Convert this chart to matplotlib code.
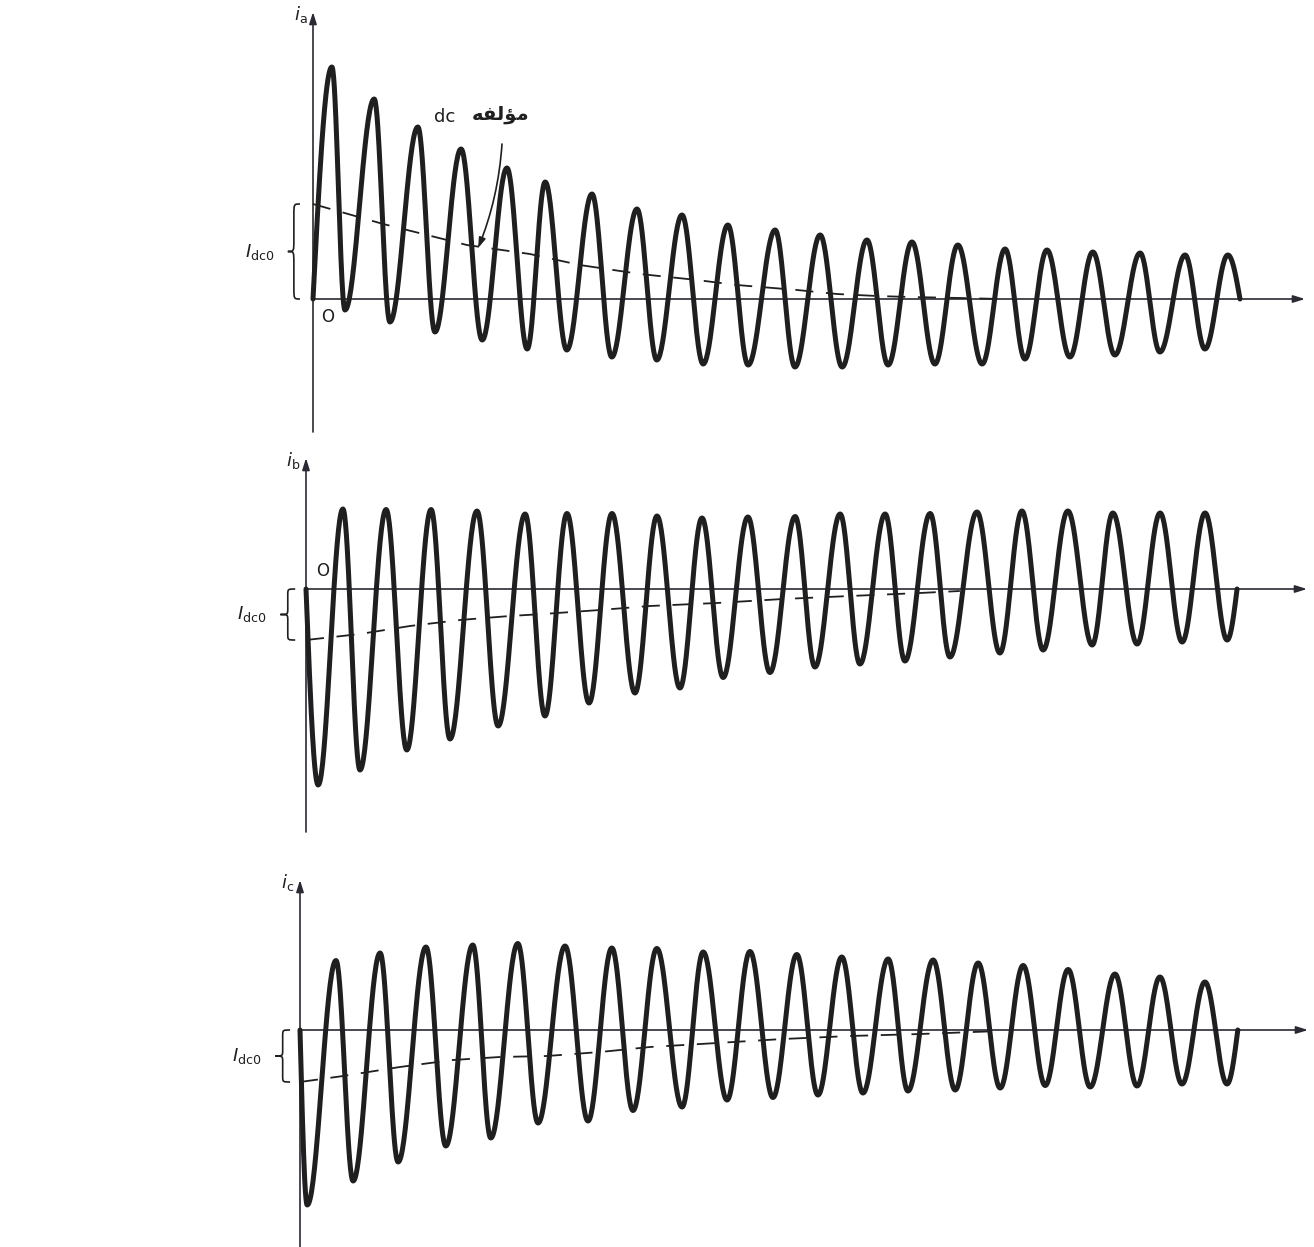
import numpy as np
import matplotlib
matplotlib.use("Agg")
import matplotlib.pyplot as plt
from matplotlib.path import Path
from matplotlib.patches import PathPatch

# =========================================================
# DATA - time in cycles, current in p.u.
# successive extrema of each phase current, plus dc component
# =========================================================
ta = [0, 0.42, 0.71, 1.36, 1.71, 2.33, 2.71, 3.29, 3.76, 4.31, 4.76, 5.16, 5.64,
      6.20, 6.64, 7.20, 7.64, 8.20, 8.67, 9.22, 9.67, 10.27, 10.71, 11.27, 11.76,
      12.31, 12.78, 13.31, 13.82, 14.33, 14.87, 15.38, 15.82, 16.31, 16.82, 17.33,
      17.82, 18.38, 18.82, 19.38, 19.82, 20.33, 20.60]
ia = [0, 4.64, -0.22, 4.00, -0.46, 3.44, -0.66, 3.00, -0.82, 2.62, -1.00, 2.34,
      -1.02, 2.10, -1.16, 1.80, -1.22, 1.68, -1.30, 1.48, -1.32, 1.38, -1.36, 1.28,
      -1.36, 1.18, -1.32, 1.14, -1.30, 1.08, -1.30, 1.00, -1.20, 0.98, -1.16, 0.94,
      -1.12, 0.92, -1.06, 0.88, -1.00, 0.88, 0]

tb = [0, 0.27, 0.82, 1.20, 1.78, 2.24, 2.78, 3.20, 3.80, 4.27, 4.87, 5.31, 5.80,
      6.29, 6.80, 7.31, 7.80, 8.31, 8.80, 9.27, 9.82, 10.31, 10.87, 11.31, 11.87,
      12.31, 12.87, 13.31, 13.87, 14.31, 14.91, 15.42, 15.91, 16.38, 16.93, 17.47,
      17.93, 18.47, 18.98, 19.47, 19.98, 20.47, 20.69]
ib = [0, -3.92, 1.60, -3.62, 1.59, -3.22, 1.59, -3.00, 1.56, -2.74, 1.50, -2.54,
      1.51, -2.28, 1.51, -2.08, 1.46, -1.98, 1.42, -1.77, 1.44, -1.67, 1.45, -1.56,
      1.50, -1.50, 1.50, -1.44, 1.51, -1.36, 1.54, -1.28, 1.56, -1.22, 1.56, -1.12,
      1.52, -1.10, 1.52, -1.06, 1.52, -1.02, 0]

tc = [0, 0.16, 0.80, 1.18, 1.78, 2.18, 2.80, 3.24, 3.84, 4.24, 4.84, 5.29, 5.89,
      6.40, 6.93, 7.40, 7.93, 8.49, 8.96, 9.49, 10.00, 10.51, 11.04, 11.51, 12.04,
      12.51, 13.07, 13.51, 14.07, 14.56, 15.07, 15.56, 16.07, 16.56, 17.07, 17.56,
      18.11, 18.60, 19.11, 19.60, 20.11, 20.60, 20.84]
ic = [0, -3.50, 1.39, -3.02, 1.54, -2.64, 1.66, -2.32, 1.70, -2.16, 1.73, -1.86,
      1.68, -1.82, 1.64, -1.61, 1.63, -1.54, 1.56, -1.40, 1.57, -1.35, 1.51, -1.30,
      1.46, -1.26, 1.42, -1.22, 1.40, -1.20, 1.34, -1.16, 1.29, -1.11, 1.21, -1.14,
      1.12, -1.12, 1.06, -1.08, 0.96, -1.08, 0]

dc_ta = [0, 1.56, 3.42, 4.82, 5.93, 7.27, 8.53, 9.42, 10.76, 11.64, 12.53, 13.27, 14.38, 15.27]
dc_a = [1.90, 1.50, 1.08, 0.90, 0.68, 0.50, 0.38, 0.28, 0.18, 0.10, 0.06, 0.04, 0.02, 0.0]
dc_tb = [0, 1.20, 2.31, 3.42, 4.53, 5.27, 6.53, 7.64, 9.13, 10.60, 12.09, 13.64, 14.53]
dc_b = [-1.02, -0.90, -0.74, -0.62, -0.54, -0.50, -0.42, -0.34, -0.28, -0.20, -0.14, -0.08, -0.04]
dc_tc = [0, 0.96, 2.22, 3.40, 4.44, 5.49, 6.67, 7.78, 9.27, 10.73, 12.22, 13.78, 15.56]
dc_c = [-1.04, -0.92, -0.74, -0.60, -0.54, -0.52, -0.44, -0.34, -0.26, -0.18, -0.12, -0.08, -0.02]

PHASES = ["a", "b", "c"]
DC_LABEL = r"$I_{\rm dc0}$"
DC_NOTE_FA = "\ufeea\ufed4\ufedf\ufe86\ufee3"   # "مؤلفه" pre-shaped, visual order

# =========================================================
# LAYOUT (pixels of the 1314x1247 page)
# =========================================================
W, H = 1314, 1247
PX_T, PX_I = 45.0, 50.0      # px per cycle, px per unit
PANELS = {
    # x0 of axis, zero line y, band top, band bottom, y-axis tip, y-axis bottom, x-arrow tip
    "a": dict(x0=313, zero=299, top=0, bot=445, tip=12, ybot=432, xtip=1305),
    "b": dict(x0=306, zero=589, top=445, bot=850, tip=458, ybot=832, xtip=1307),
    "c": dict(x0=300, zero=1030, top=850, bot=1247, tip=880, ybot=1247, xtip=1308),
}
INK = "#1f1f1f"
AXIS_INK = "#2a2a35"


def build_wave(t, v, n=40):
    """join successive extrema with half-cosine arcs"""
    xs, ys = [], []
    last = len(t) - 2
    for k in range(len(t) - 1):
        s = np.linspace(0, 1, n)
        if k == 0:
            seg = v[1] * np.sin(np.pi / 2 * s)
        elif k == last:
            seg = v[k] * np.cos(np.pi / 2 * s)
        else:
            seg = v[k] + (v[k + 1] - v[k]) * (1 - np.cos(np.pi * s)) / 2
        xs.append(t[k] + (t[k + 1] - t[k]) * s)
        ys.append(seg)
    return np.concatenate(xs), np.concatenate(ys)


def brace(ax, xb, w, v_lo, v_hi, **kw):
    vm = (v_lo + v_hi) / 2
    d = 0.12 * (v_hi - v_lo)
    xm = xb - w / 2
    verts = [(xb, v_hi), (xm, v_hi), (xm, v_hi), (xm, v_hi - d),
             (xm, vm + d),
             (xm, vm), (xm, vm), (xb - w, vm),
             (xm, vm), (xm, vm), (xm, vm - d),
             (xm, v_lo + d),
             (xm, v_lo), (xm, v_lo), (xb, v_lo)]
    codes = [Path.MOVETO, Path.CURVE4, Path.CURVE4, Path.CURVE4,
             Path.LINETO,
             Path.CURVE4, Path.CURVE4, Path.CURVE4,
             Path.CURVE4, Path.CURVE4, Path.CURVE4,
             Path.LINETO,
             Path.CURVE4, Path.CURVE4, Path.CURVE4]
    ax.add_patch(PathPatch(Path(verts, codes), fill=False, clip_on=False, **kw))


fig = plt.figure(figsize=(W / 100, H / 100), dpi=100)
fig.patch.set_facecolor("white")

series = {"a": (ta, ia, dc_ta, dc_a), "b": (tb, ib, dc_tb, dc_b), "c": (tc, ic, dc_tc, dc_c)}
brace_geom = {"a": (-0.29, 0.27), "b": (-0.24, 0.33), "c": (-0.22, 0.33)}

axes = {}
for ph in PHASES:
    p = PANELS[ph]
    ax = fig.add_axes([0, 1 - p["bot"] / H, 1, (p["bot"] - p["top"]) / H])
    ax.set_xlim(-p["x0"] / PX_T, (W - p["x0"]) / PX_T)
    ax.set_ylim(-(p["bot"] - p["zero"]) / PX_I, (p["zero"] - p["top"]) / PX_I)
    ax.axis("off")
    axes[ph] = ax

    t, v, tdc, vdc = series[ph]
    y_tip = (p["zero"] - p["tip"]) / PX_I
    y_bot = -(p["ybot"] - p["zero"]) / PX_I
    x_tip = (p["xtip"] - p["x0"]) / PX_T

    # axes with arrow heads
    arrow = dict(arrowstyle="-|>,head_length=0.7,head_width=0.22", color=AXIS_INK,
                 lw=1.2, shrinkA=0, shrinkB=0)
    ax.annotate("", xy=(0, y_tip), xytext=(0, y_bot), arrowprops=arrow,
                annotation_clip=False, zorder=2)
    ax.annotate("", xy=(x_tip, 0), xytext=(0, 0), arrowprops=arrow,
                annotation_clip=False, zorder=2)

    # dc component (dashed)
    ax.plot(tdc, vdc, color=INK, lw=1.3, linestyle=(0, (10, 7)), zorder=3, clip_on=False)

    # phase current
    xw, yw = build_wave(t, v)
    ax.plot(xw, yw, color=INK, lw=3.6, solid_joinstyle="round",
            solid_capstyle="round", zorder=4, clip_on=False)

    # axis label i_a / i_b / i_c
    ax.text(-0.12, y_tip - 0.05, r"$i_{\rm %s}$" % ph, fontsize=13, ha="right",
            va="center", color=INK)

    # brace for I_dc0
    xb, w = brace_geom[ph]
    brace(ax, xb, w, min(0, vdc[0]), max(0, vdc[0]), color=INK, lw=1.2)
    ax.text(xb - w - 0.3, vdc[0] / 2, DC_LABEL, fontsize=13, ha="right",
            va="center", color=INK)

# origin marks
axes["a"].text(0.18, -0.18, "O", fontsize=12, ha="left", va="top", color=INK)
axes["b"].text(0.22, 0.18, "O", fontsize=12, ha="left", va="bottom", color=INK)

# dc component note on phase a
ax = axes["a"]
ax.annotate("", xy=(3.67, 1.02), xytext=(4.2, 3.1),
            arrowprops=dict(arrowstyle="-|>,head_length=0.6,head_width=0.2",
                            color=INK, lw=1.2, shrinkA=0, shrinkB=0,
                            connectionstyle="arc3,rad=-0.08"), zorder=5)
ax.text(2.93, 3.65, "dc", fontsize=13, ha="center", va="center", color=INK)
ax.text(4.16, 3.7, DC_NOTE_FA, fontsize=14, fontweight="bold", ha="center",
        va="center", color=INK, family=["DejaVu Sans"])

fig.savefig("out.png", dpi=100, facecolor="white")
